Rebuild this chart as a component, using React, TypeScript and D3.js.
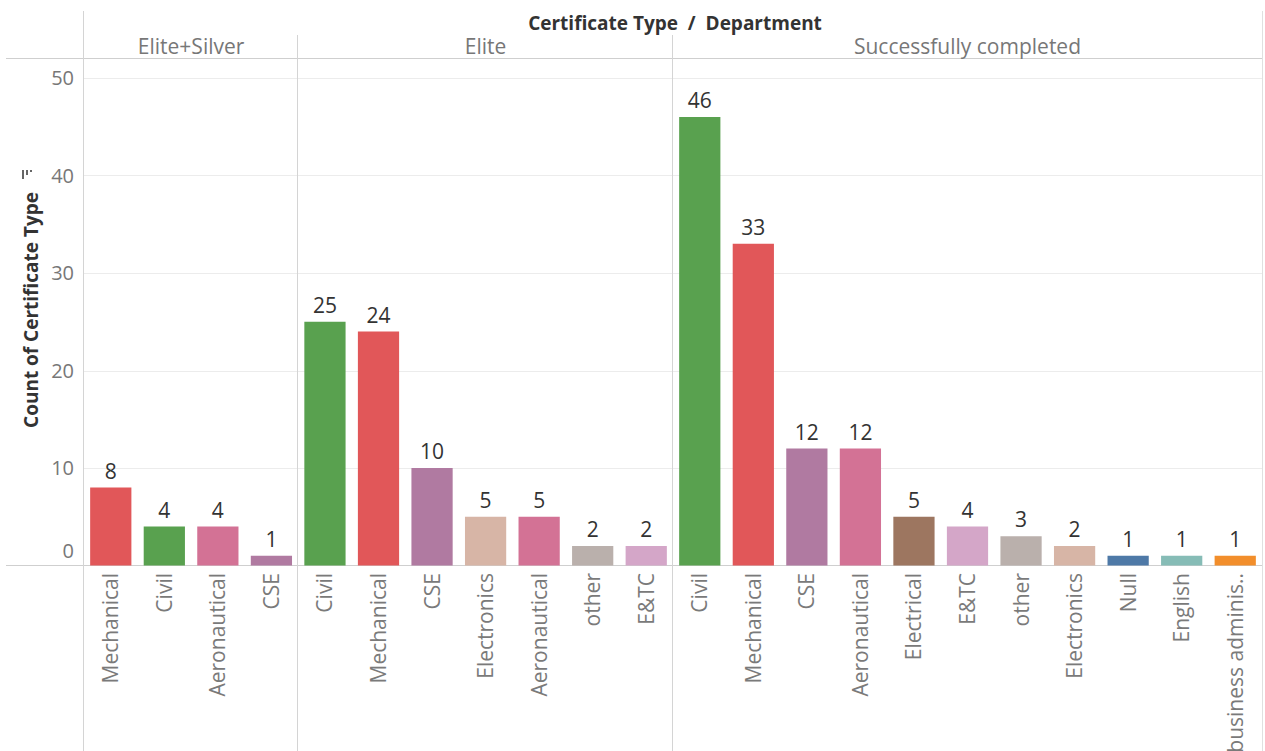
import React from "react";
import * as d3 from "d3";

const certificateTypes = ["Elite+Silver", "Elite", "Successfully completed"];
const eliteSilverDepts = ["Mechanical", "Civil", "Aeronautical", "CSE"];
const eliteSilverCounts = [8, 4, 4, 1];
const eliteDepts = ["Civil", "Mechanical", "CSE", "Electronics", "Aeronautical", "other", "E&TC"];
const eliteCounts = [25, 24, 10, 5, 5, 2, 2];
const completedDepts = ["Civil", "Mechanical", "CSE", "Aeronautical", "Electrical", "E&TC", "other", "Electronics", "Null", "English", "business adminis.."];
const completedCounts = [46, 33, 12, 12, 5, 4, 3, 2, 1, 1, 1];
const yTicks = [0, 10, 20, 30, 40, 50];

const deptColors: Record<string, string> = {
  Mechanical: "#E15759",
  Civil: "#59A14F",
  Aeronautical: "#D37295",
  CSE: "#B07AA1",
  Electronics: "#D7B5A6",
  other: "#BAB0AC",
  "E&TC": "#D4A6C8",
  Electrical: "#9D7660",
  Null: "#4E79A7",
  English: "#86BCB6",
  "business adminis..": "#F28E2B",
};

const W = 1265;
const H = 751;
const FONT = "'Open Sans', 'Noto Sans', sans-serif";

export default function App() {
  const groups = [
    { type: certificateTypes[0], depts: eliteSilverDepts, counts: eliteSilverCounts },
    { type: certificateTypes[1], depts: eliteDepts, counts: eliteCounts },
    { type: certificateTypes[2], depts: completedDepts, counts: completedCounts },
  ];
  const rows = groups.flatMap((g, gi) =>
    g.depts.map((d, i) => ({ key: `${gi}-${i}`, group: gi, dept: d, value: g.counts[i] }))
  );

  const left = 84;
  const right = 1262;
  const x = d3
    .scaleBand<string>()
    .domain(rows.map((r) => r.key))
    .range([left, right])
    .paddingInner(0.23)
    .paddingOuter(0.115);
  const y = d3.scaleLinear().domain([0, 52]).range([565.5, 58.5]);

  const step = x.step();
  const paneBounds = groups.map((g, gi) => {
    const keys = rows.filter((r) => r.group === gi).map((r) => r.key);
    const start = (x(keys[0]) as number) - step * 0.115;
    const end = (x(keys[keys.length - 1]) as number) + x.bandwidth() + step * 0.115;
    return { start, end };
  });

  return (
    <svg width={W} height={H} style={{ position: "absolute", left: 0, top: 0, background: "#fff" }} fontFamily={FONT}>
      {yTicks.filter((t) => t > 0).map((t) => (
        <line key={`g${t}`} x1={left} x2={right} y1={Math.round(y(t)) + 0.5} y2={Math.round(y(t)) + 0.5} stroke="#ececec" />
      ))}
      <line x1={6} x2={right} y1={58.5} y2={58.5} stroke="#cfcfcf" />
      <line x1={6} x2={right} y1={565.5} y2={565.5} stroke="#cfcfcf" />
      <line x1={left - 0.5} x2={left - 0.5} y1={11} y2={H} stroke="#d4d4d4" />
      {paneBounds.slice(0, -1).map((p, i) => (
        <line key={`v${i}`} x1={Math.round(p.end) - 0.5} x2={Math.round(p.end) - 0.5} y1={35} y2={H} stroke="#d4d4d4" />
      ))}
      <line x1={right + 0.5} x2={right + 0.5} y1={11} y2={H} stroke="#e0e0e0" />

      <text x={675} y={30} textAnchor="middle" fontSize={19} fontWeight="bold" fill="#333">
        Certificate Type&nbsp;&nbsp;/&nbsp;&nbsp;Department
      </text>
      {groups.map((g, gi) => (
        <text key={g.type} x={(paneBounds[gi].start + paneBounds[gi].end) / 2} y={54} textAnchor="middle" fontSize={21} fill="#777">
          {g.type}
        </text>
      ))}

      {yTicks.map((t) => (
        <text key={`t${t}`} x={74} y={t === 0 ? 558 : y(t) + 7} textAnchor="end" fontSize={20} fill="#777">
          {t}
        </text>
      ))}
      <text transform="translate(38,310) rotate(-90)" textAnchor="middle" fontSize={19} fontWeight="bold" fill="#333">
        Count of Certificate Type
      </text>
      <g transform="translate(23,170)" stroke="#333" strokeWidth={1.5}>
        <line x1={0} x2={0} y1={0} y2={9} />
        <line x1={4} x2={4} y1={0} y2={5} />
        <line x1={8} x2={8} y1={0} y2={2} />
      </g>

      {rows.map((r) => (
        <rect key={`b${r.key}`} x={x(r.key)} y={y(r.value)} width={x.bandwidth()} height={y(0) - y(r.value)} fill={deptColors[r.dept]} />
      ))}
      {rows.map((r) => (
        <text key={`l${r.key}`} x={(x(r.key) as number) + x.bandwidth() / 2} y={y(r.value) - 9} textAnchor="middle" fontSize={21} fill="#333">
          {r.value}
        </text>
      ))}
      {rows.map((r) => {
        const cx = (x(r.key) as number) + x.bandwidth() / 2;
        return (
          <text key={`c${r.key}`} transform={`translate(${cx + 7.5},573) rotate(-90)`} textAnchor="end" fontSize={21} fill="#7a7a7a">
            {r.dept}
          </text>
        );
      })}
    </svg>
  );
}
